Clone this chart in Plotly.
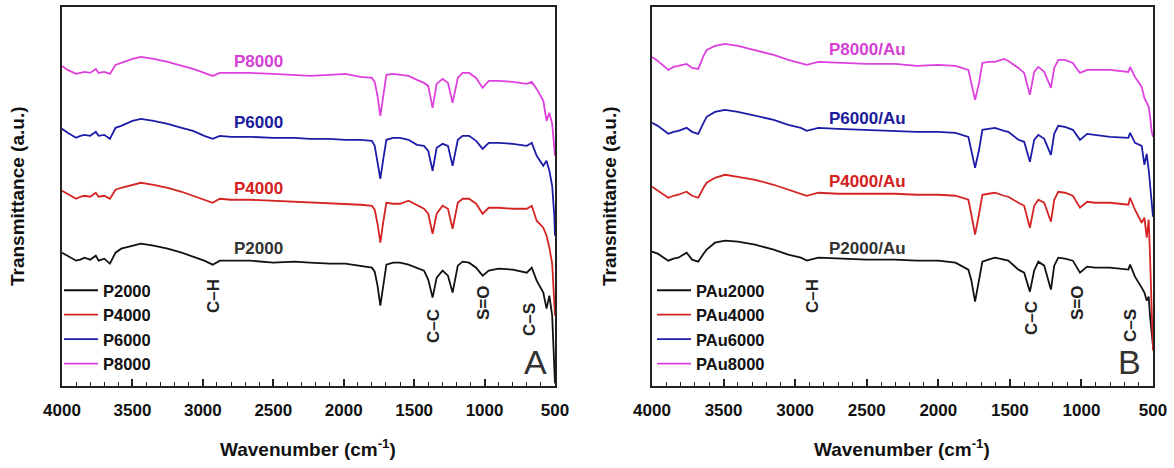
import plotly.graph_objects as go

W, H = 1174, 468

# ---------------- Panel A data (wavenumber, transmittance a.u.) ----------------
WN_A = [4000, 3960, 3900, 3870, 3840, 3800, 3760, 3740, 3700, 3660,
        3620, 3580, 3500, 3440, 3350, 3250, 3150, 3070, 2990, 2930,
        2880, 2800, 2665, 2500, 2350, 2240, 2100, 1990, 1880, 1800,
        1780, 1760, 1740, 1720, 1697, 1650, 1600, 1540, 1480, 1430,
        1400, 1369, 1340, 1298, 1260, 1227, 1190, 1156, 1110, 1060,
        1014, 970, 900, 800, 700, 665, 630, 583, 560, 540,
        520, 505, 500]

P2000 = [133, 130, 125, 126, 128, 126, 130, 125, 127, 122,
         133, 137, 140, 142, 140, 137, 133, 129, 125, 121,
         125, 125, 125, 123, 124, 123, 122, 122, 120, 118,
         114, 100, 80, 100, 121, 123, 123, 121, 118, 115,
         106, 88, 108, 115, 110, 93, 120, 124, 123, 118,
         110, 115, 117, 116, 113, 118, 105, 93, 77, 90,
         70, 15, 2]

P4000 = [195, 192, 187, 189, 190, 189, 193, 189, 190, 187,
         196, 198, 201, 203, 201, 198, 194, 190, 186, 183,
         187, 186, 186, 185, 184, 183, 182, 182, 181, 180,
         176, 162, 143, 163, 183, 182, 182, 185, 181, 177,
         172, 152, 172, 180, 177, 157, 183, 187, 187, 182,
         172, 178, 178, 177, 177, 180, 165, 158, 150, 138,
         122, 90, 70]

P6000 = [257, 253, 248, 250, 251, 250, 254, 250, 251, 247,
         258, 260, 265, 267, 265, 262, 258, 255, 250, 247,
         250, 249, 249, 248, 248, 247, 247, 246, 246, 245,
         240, 225, 207, 226, 246, 248, 248, 246, 241, 240,
         235, 215, 238, 242, 240, 220, 246, 250, 250, 245,
         237, 243, 243, 242, 240, 243, 230, 220, 225, 215,
         200, 170, 150]

P8000 = [320, 316, 312, 313, 314, 313, 317, 313, 314, 312,
         321, 323, 327, 329, 327, 324, 320, 317, 313, 310,
         313, 313, 313, 312, 311, 310, 311, 312, 309, 308,
         304, 290, 270, 290, 311, 312, 311, 310, 306, 303,
         300, 278, 302, 307, 303, 283, 308, 313, 313, 308,
         298, 305, 305, 304, 302, 304, 297, 285, 265, 273,
         262, 240, 230]

# ---------------- Panel B data ----------------
WN_B = [4000, 3960, 3886, 3850, 3816, 3780, 3758, 3720, 3677, 3640,
        3618, 3560, 3490, 3400, 3280, 3150, 3048, 2960, 2919, 2838,
        2700, 2500, 2302, 2150, 2000, 1880, 1790, 1770, 1743, 1715,
        1692, 1650, 1604, 1540, 1511, 1440, 1400, 1360, 1330, 1301,
        1260, 1213, 1190, 1162, 1115, 1060, 1010, 960, 905, 800,
        672, 660, 626, 579, 560, 544, 530, 521, 510, 500]

PAu2000 = [134, 132, 125, 127, 128, 131, 133, 126, 124, 132,
           136, 143, 145, 144, 141, 136, 131, 128, 125, 128,
           127, 126, 126, 125, 125, 123, 116, 106, 84, 105,
           124, 126, 128, 126, 125, 116, 113, 94, 115, 124,
           120, 96, 120, 128, 127, 125, 113, 119, 118, 118,
           116, 121, 109, 98, 93, 85, 89, 70, 55, 40]

PAu4000 = [199, 195, 188, 190, 191, 193, 194, 190, 188, 198,
           203, 208, 211, 209, 206, 201, 196, 192, 190, 193,
           192, 192, 192, 191, 191, 190, 186, 172, 151, 172,
           191, 192, 193, 190, 189, 183, 180, 158, 180, 186,
           183, 164, 186, 194, 193, 190, 178, 184, 183, 183,
           181, 188, 176, 163, 168, 148, 166, 130, 80, 35]

PAu6000 = [263, 260, 252, 254, 255, 257, 258, 254, 252, 263,
           269, 274, 276, 274, 270, 266, 261, 258, 255, 258,
           257, 256, 255, 254, 254, 253, 249, 235, 218, 236,
           256, 257, 258, 255, 254, 246, 244, 224, 246, 251,
           247, 231, 252, 260, 259, 256, 246, 252, 251, 249,
           248, 253, 243, 240, 221, 232, 216, 200, 185, 169]

PAu8000 = [329, 325, 316, 319, 320, 321, 322, 318, 317, 330,
           336, 340, 342, 340, 336, 331, 326, 323, 321, 324,
           323, 322, 322, 320, 321, 320, 316, 303, 286, 303,
           323, 324, 324, 327, 325, 318, 313, 291, 314, 319,
           314, 298, 318, 326, 326, 323, 313, 316, 316, 316,
           314, 319, 309, 299, 288, 284, 279, 270, 255, 249]

SERIES_A = ["P2000", "P4000", "P6000", "P8000"]
SERIES_B = ["PAu2000", "PAu4000", "PAu6000", "PAu8000"]
CURVE_LABELS_A = ["P2000", "P4000", "P6000", "P8000"]
CURVE_LABELS_B = ["P2000/Au", "P4000/Au", "P6000/Au", "P8000/Au"]
PEAK_LABELS = ["C\u2013H", "C\u2013C", "S=O", "C\u2013S"]
PANEL_LETTERS = ["A", "B"]
X_TICKS = [4000, 3500, 3000, 2500, 2000, 1500, 1000, 500]

COLORS = ["#111111", "#d42424", "#1c1ca8", "#de40de"]
LABEL_COLORS = ["#333333", "#d42020", "#1a1a9a", "#d43fd4"]
FONT = "Liberation Sans, Arial, sans-serif"

data_A = [P2000, P4000, P6000, P8000]
data_B = [PAu2000, PAu4000, PAu6000, PAu8000]


def fx(px):
    return px / W


def fy(py):
    return 1 - py / H


fig = go.Figure()
for name, ys, c in zip(SERIES_A, data_A, COLORS):
    fig.add_trace(go.Scatter(x=WN_A, y=ys, mode="lines", name=name,
                             line=dict(color=c, width=1.8),
                             xaxis="x", yaxis="y", legend="legend"))
for name, ys, c in zip(SERIES_B, data_B, COLORS):
    fig.add_trace(go.Scatter(x=WN_B, y=ys, mode="lines", name=name,
                             line=dict(color=c, width=1.8),
                             xaxis="x2", yaxis="y2", legend="legend2"))

axis_common = dict(showline=True, linewidth=2, linecolor="#222222", mirror=True,
                   showgrid=False, zeroline=False, automargin=False)
xcommon = dict(axis_common, range=[4000, 500], tickvals=X_TICKS,
               ticks="inside", ticklen=7, tickwidth=1.5, tickcolor="#222222",
               minor=dict(dtick=100, ticks="inside", ticklen=4, tickwidth=1.2,
                          tickcolor="#222222", showgrid=False),
               tickfont=dict(family=FONT, size=17, color="#111111", weight="bold"),
               ticklabelstandoff=8)
ycommon = dict(axis_common, range=[0, 379], showticklabels=False, ticks="")

legend_font = dict(family=FONT, size=16.5, color="#111111", weight="bold")
ydom = [fy(385.5), fy(7)]
fig.update_layout(
    width=W, height=H,
    margin=dict(l=0, r=0, t=0, b=0, pad=0, autoexpand=False),
    plot_bgcolor="white", paper_bgcolor="white",
    xaxis=dict(xcommon, domain=[fx(62), fx(555)], anchor="y"),
    yaxis=dict(ycommon, domain=ydom, anchor="x"),
    xaxis2=dict(xcommon, domain=[fx(652), fx(1153)], anchor="y2"),
    yaxis2=dict(ycommon, domain=ydom, anchor="x2"),
    legend=dict(x=fx(59), y=fy(273), xanchor="left", yanchor="top",
                bgcolor="rgba(0,0,0,0)", borderwidth=0, itemwidth=34,
                font=legend_font),
    legend2=dict(x=fx(652), y=fy(273), xanchor="left", yanchor="top",
                 bgcolor="rgba(0,0,0,0)", borderwidth=0, itemwidth=34,
                 font=legend_font),
    showlegend=True,
)

ann = []
# curve labels
for lab, yy, col in zip(CURVE_LABELS_A, [248, 188, 123, 62], LABEL_COLORS):
    ann.append(dict(text=lab, x=fx(258), y=fy(yy), font=dict(color=col)))
for lab, yy, col in zip(CURVE_LABELS_B, [248, 182, 118, 50], LABEL_COLORS):
    ann.append(dict(text=lab, x=fx(867), y=fy(yy), font=dict(color=col)))
# peak labels
for lab, (xx, yy) in zip(PEAK_LABELS, [(213, 296), (433, 326), (483, 303), (529, 320)]):
    ann.append(dict(text=lab, x=fx(xx), y=fy(yy), textangle=-90,
                    font=dict(color="#222222")))
for lab, (xx, yy) in zip(PEAK_LABELS, [(812, 296), (1031, 318), (1077, 303), (1130, 326)]):
    ann.append(dict(text=lab, x=fx(xx), y=fy(yy), textangle=-90,
                    font=dict(color="#222222")))
# panel letters
for lab, xx in zip(PANEL_LETTERS, [535, 1129]):
    ann.append(dict(text=lab, x=fx(xx), y=fy(362),
                    font=dict(size=34, color="#333333", weight="normal")))
# axis titles
for xx in [308, 902]:
    ann.append(dict(text="Wavenumber (cm<sup>-1</sup>)", x=fx(xx), y=fy(448),
                    font=dict(size=19, color="#111111")))
for xx in [17, 609]:
    ann.append(dict(text="Transmittance (a.u.)", x=fx(xx), y=fy(196), textangle=-90,
                    font=dict(size=19, color="#111111")))

for a in ann:
    f = dict(family=FONT, size=17, weight="bold")
    f.update(a.get("font", {}))
    a["font"] = f
    a.update(xref="paper", yref="paper", showarrow=False,
             xanchor="center", yanchor="middle")
    fig.add_annotation(**a)

fig.write_html("out.html",
               config={"displayModeBar": False},
               post_script="document.body.style.margin='0px';"
                           "document.documentElement.style.overflow='hidden';")
